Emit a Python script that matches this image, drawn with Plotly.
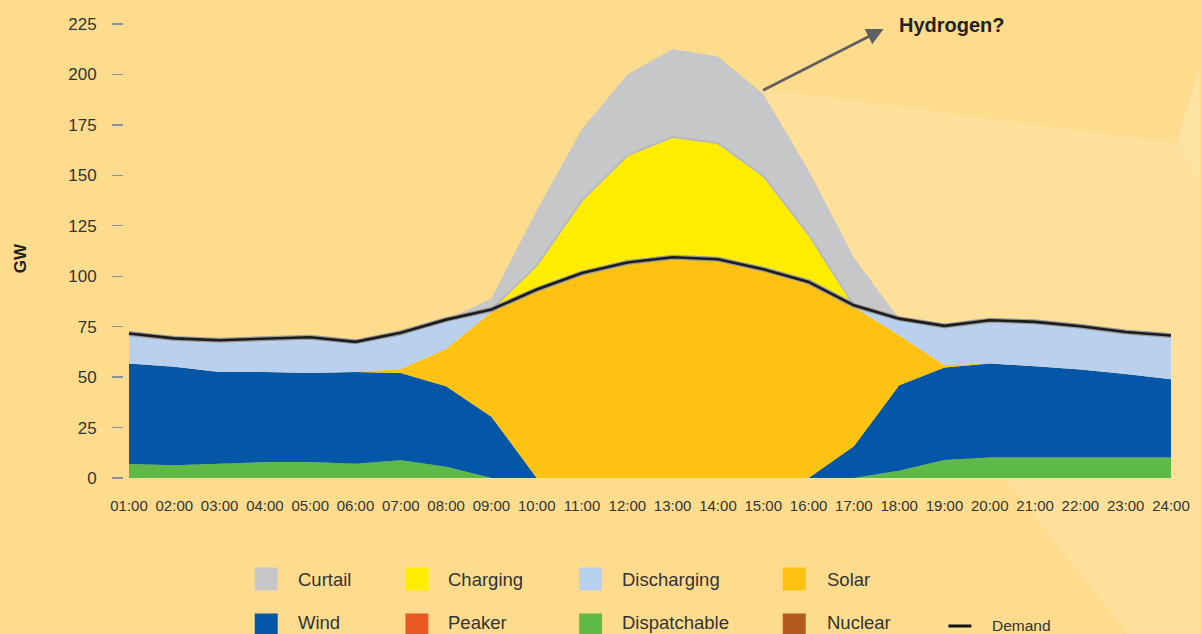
import plotly.graph_objects as go

# ---------------- data (GW) ----------------
hours = ["01:00", "02:00", "03:00", "04:00", "05:00", "06:00", "07:00", "08:00",
         "09:00", "10:00", "11:00", "12:00", "13:00", "14:00", "15:00", "16:00",
         "17:00", "18:00", "19:00", "20:00", "21:00", "22:00", "23:00", "24:00"]

nuclear      = [0] * 24
dispatchable = [6.9, 6.3, 7.1, 7.9, 7.9, 7.1, 8.8, 5.6, 0, 0, 0, 0,
                0, 0, 0, 0, 0, 3.6, 8.9, 10.2, 10.2, 10.2, 10.2, 10.2]
wind         = [49.9, 48.8, 45.5, 44.7, 44.1, 45.5, 43.2, 39.9, 30.4, 0, 0, 0,
                0, 0, 0, 0, 15.8, 42.4, 45.9, 46.6, 45.2, 43.6, 41.3, 38.7]
peaker       = [0] * 24
solar        = [0, 0, 0, 0, 0, 0, 2.0, 18.4, 51.9, 93.4, 101.6, 106.8,
                109.4, 108.4, 103.5, 97.2, 69.0, 24.8, 1.1, 0, 0, 0, 0, 0]
discharging  = [14.8, 14.1, 15.7, 16.4, 17.8, 14.9, 18.0, 14.6, 1.2, 0, 0, 0,
                0, 0, 0, 0, 0.8, 8.2, 19.5, 21.4, 22.0, 21.4, 20.9, 21.7]
charging     = [0, 0, 0, 0, 0, 0, 0, 0, 0, 12.0, 36.0, 53.1,
                59.6, 57.6, 46.2, 23.6, 0, 0, 0, 0, 0, 0, 0, 0]
curtail      = [0, 0, 0, 0, 0, 0, 0, 0, 5.5, 27.3, 35.4, 40.1,
                43.7, 42.9, 40.6, 31.7, 23.7, 0, 0, 0, 0, 0, 0, 0]
demand       = [71.6, 69.2, 68.3, 69.0, 69.8, 67.5, 72.0, 78.5, 83.5, 93.4, 101.6, 106.8,
                109.4, 108.4, 103.5, 97.2, 85.6, 79.0, 75.4, 78.2, 77.4, 75.2, 72.4, 70.6]

y_ticks = [0, 25, 50, 75, 100, 125, 150, 175, 200, 225]

# ---------------- styling ----------------
BG = "#FEDC8E"
TXT = "#333333"
FONT = "Liberation Sans, Arial, Helvetica, sans-serif"
colors = {
    "Curtail": "#C6C7C9", "Charging": "#FFED00", "Discharging": "#B9D0EE",
    "Solar": "#FDC212", "Wind": "#0357A6", "Peaker": "#E85A24",
    "Dispatchable": "#5FB946", "Nuclear": "#B55A1E",
}

W, H = 1202, 634
ML, MR, MT, MB = 124, 29, 14, 156
PW, PH = W - ML - MR, H - MT - MB


def px(x):
    return (x - ML) / PW


def py(y):
    return (H - MB - y) / PH


x = list(range(24))
fig = go.Figure()

stack = [
    ("Nuclear", nuclear), ("Dispatchable", dispatchable), ("Wind", wind),
    ("Peaker", peaker), ("Solar", solar), ("Discharging", discharging),
    ("Charging", charging), ("Curtail", curtail),
]
for name, vals in stack:
    line = dict(width=0, color=colors[name])
    if name == "Charging":
        line = dict(width=2, color="#B7B9BC")
    fig.add_trace(go.Scatter(
        x=x, y=vals, name=name, mode="lines", stackgroup="gen",
        line=line, fillcolor=colors[name], showlegend=False, hoverinfo="skip",
    ))

fig.add_trace(go.Scatter(x=x, y=demand, mode="lines", line=dict(color="#9A9A9A", width=5),
                         showlegend=False, hoverinfo="skip"))
fig.add_trace(go.Scatter(x=x, y=demand, name="Demand", mode="lines",
                         line=dict(color="#1C1C1C", width=2.6), showlegend=False,
                         hoverinfo="skip"))

shapes = []


# subtle background light rays
def poly(pts, color):
    path = "M " + " L ".join(f"{px(a):.4f},{py(b):.4f}" for a, b in pts) + " Z"
    return dict(type="path", xref="paper", yref="paper", path=path,
                fillcolor=color, line=dict(width=0), layer="below")


shapes.append(poly([(760, 88), (1178, 143), (1202, 150), (1202, 634), (1130, 634),
                    (1007, 480), (860, 480)], "#FEE09B"))
shapes.append(poly([(1007, 480), (1130, 634), (1202, 634), (1202, 560)], "#FEE09B"))
shapes.append(poly([(1178, 143), (1202, 67), (1202, 187)], "#FEE2A1"))

annotations = []
# legend (manual, to match the 4-column layout)
legend_items = [
    ("Curtail", 255, 579, 296, 579), ("Charging", 406, 579, 447, 579),
    ("Discharging", 580, 579, 621, 579), ("Solar", 784, 579, 826, 579),
    ("Wind", 255, 625, 296, 622), ("Peaker", 406, 625, 447, 622),
    ("Dispatchable", 580, 625, 621, 622), ("Nuclear", 784, 625, 826, 622),
]
for name, sx, cy, tx, ty in legend_items:
    shapes.append(dict(type="rect", xref="paper", yref="paper",
                       x0=px(sx), x1=px(sx + 23), y0=py(cy - 11.5), y1=py(cy + 11.5),
                       fillcolor=colors[name], line=dict(width=0)))
    annotations.append(dict(xref="paper", yref="paper", x=px(tx), y=py(ty), text=name,
                            showarrow=False, xanchor="left", yanchor="middle",
                            font=dict(size=18.5, color=TXT, family=FONT)))
shapes.append(dict(type="line", xref="paper", yref="paper", x0=px(950), x1=px(973),
                   y0=py(626), y1=py(626), line=dict(color="#111111", width=3)))
annotations.append(dict(xref="paper", yref="paper", x=px(992), y=py(625), text="Demand",
                        showarrow=False, xanchor="left", yanchor="middle",
                        font=dict(size=15.5, color=TXT, family=FONT)))

# GW axis title
annotations.append(dict(xref="paper", yref="paper", x=px(20), y=py(258), text="<b>GW</b>",
                        textangle=-90, showarrow=False, xanchor="center", yanchor="middle",
                        font=dict(size=17, color="#222222", family=FONT)))

# Hydrogen arrow + label
annotations.append(dict(xref="paper", yref="paper", x=px(885), y=py(29),
                        axref="pixel", ayref="pixel", ax=763 - 885, ay=91 - 29,
                        text="", showarrow=True, arrowhead=2, arrowsize=1.3,
                        arrowwidth=2.6, arrowcolor="#5E5F64"))
annotations.append(dict(xref="paper", yref="paper", x=px(898), y=py(25), text="<b>Hydrogen?</b>",
                        showarrow=False, xanchor="left", yanchor="middle",
                        font=dict(size=20, color="#222222", family=FONT)))

fig.update_layout(
    width=W, height=H,
    margin=dict(l=ML, r=MR, t=MT, b=MB, pad=0),
    paper_bgcolor=BG, plot_bgcolor="rgba(0,0,0,0)",
    font=dict(family=FONT, color=TXT),
    shapes=shapes, annotations=annotations,
    showlegend=False, hovermode=False,
    xaxis=dict(range=[-0.11, 23], tickvals=x, ticktext=hours, ticks="",
               showgrid=False, zeroline=False, showline=False,
               tickfont=dict(size=15, color=TXT, family=FONT), ticklabelstandoff=17,
               fixedrange=True),
    yaxis=dict(range=[0, 230], tickvals=y_ticks, ticks="outside", ticklen=11,
               tickwidth=1.3, tickcolor="#8C929C", showgrid=False, zeroline=False,
               showline=False, tickfont=dict(size=17, color=TXT, family=FONT),
               ticklabelstandoff=12, fixedrange=True),
)

fig.write_html("out.html",
               config={"displayModeBar": False, "staticPlot": True},
               post_script="document.body.style.margin='0px';"
                           "document.body.style.overflow='hidden';"
                           f"document.body.style.background='{BG}';")
